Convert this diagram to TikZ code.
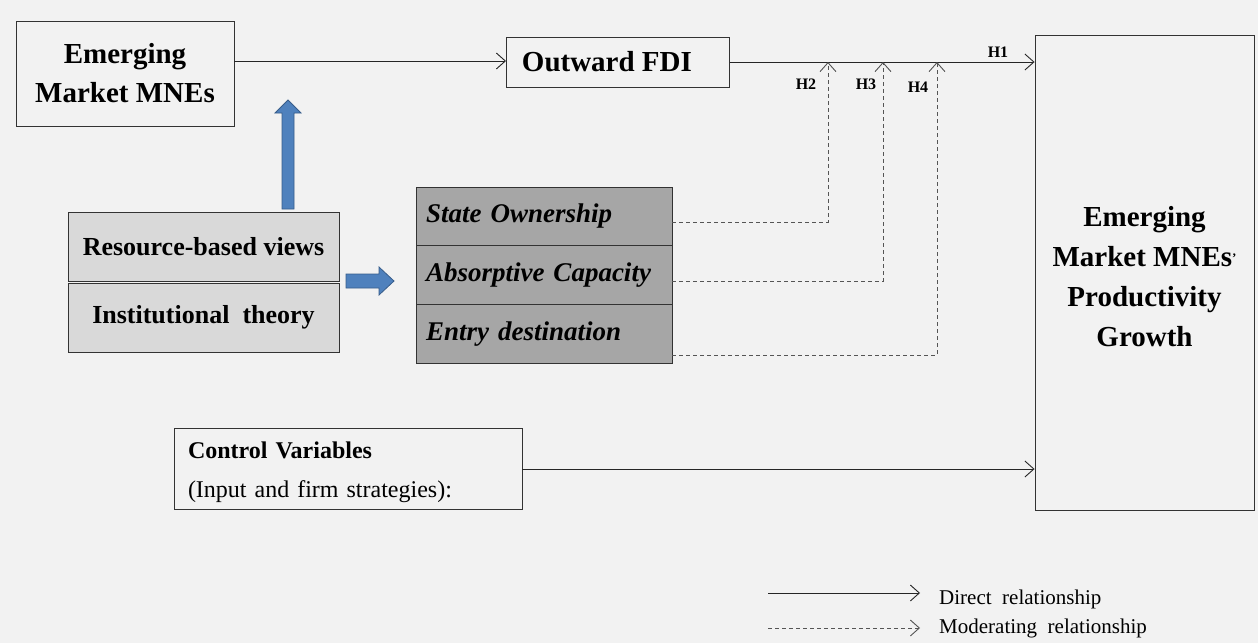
\documentclass[tikz,border=0pt]{standalone}
\usepackage{fontspec}
\setmainfont{Liberation Serif}
\usetikzlibrary{arrows.meta,calc}
\definecolor{bgc}{HTML}{F2F2F2}
\definecolor{lightbox}{HTML}{D9D9D9}
\definecolor{darkbox}{HTML}{A6A6A6}
\definecolor{blueA}{HTML}{4F81BD}
\definecolor{blueB}{HTML}{385D8A}
\definecolor{dashc}{HTML}{555555}
\begin{document}
\begin{tikzpicture}[x=1pt,y=-1pt,
  box/.style={draw=black!80, line width=0.9pt, inner sep=0pt, align=center},
  bigfont/.style={font=\bfseries\fontsize{29}{39}\selectfont},
  theo/.style={box, fill=lightbox, minimum width=271, minimum height=69, font=\bfseries\fontsize{26}{30}\selectfont},
  modb/.style={box, fill=darkbox, minimum width=256, minimum height=58.7, text width=236, align=left, font=\bfseries\itshape\fontsize{27}{30}\selectfont},
  direct/.style={draw=black!85, line width=0.9pt, -{Straight Barb[length=9pt,width=16pt,line width=0.9pt]}},
  moder/.style={draw=dashc, line width=0.9pt, dash pattern=on 4pt off 3pt, -{Straight Barb[length=9pt,width=16pt,line width=0.9pt]}},
  hlab/.style={font=\bfseries\fontsize{16}{18}\selectfont, inner sep=0pt},
  legtext/.style={font=\fontsize{21}{24}\selectfont, anchor=west, inner sep=0pt},
  bluearrow/.style={fill=blueA, draw=blueB, line width=0.8pt}
]
\fill[bgc] (0,0) rectangle (1258,643);
\useasboundingbox (0,0) rectangle (1258,643);

% boxes
\node[box, bigfont, minimum width=218, minimum height=105] (emm) at (125,73.5) {Emerging\\Market MNEs};
\node[box, bigfont, minimum width=223, minimum height=50, anchor=west] (fdi) at (506,62) {\hspace*{-22pt}Outward FDI};
\node[box, minimum width=219, minimum height=475] (prod) at (1144.5,272.5) {};
\node[align=center, inner sep=0pt, font=\bfseries\fontsize{29}{40}\selectfont] (prodtxt) at (1144.5,277) {Emerging\\Market MNEs\raisebox{0.35ex}{\fontsize{13}{13}\selectfont'}\\Productivity\\Growth};

\node[theo] (rbv) at (203.5,247) {Resource-based views};
\node[theo] (inst) at (203.5,317.5) {Institutional\ \ theory};

\node[modb] (state) at (544,216.3) {State Ownership};
\node[modb] (absorb) at (544,275) {Absorptive Capacity};
\node[modb] (entry) at (544,333.7) {Entry destination};

\node[box, minimum width=348, minimum height=81] (ctrl) at (348,468.5) {};
\node[inner sep=0pt, text width=320, align=left, font=\fontsize{24}{39}\selectfont] (ctrltxt) at (348,472)
  {\textbf{Control Variables}\\(Input and firm strategies):};

% direct relationships
\draw[direct] (emm.east |- 0,61) -- (fdi.west |- 0,61);
\draw[direct] (fdi.east |- 0,62) -- (prod.west |- 0,62);
\draw[direct] (ctrl.east |- 0,469) -- (prod.west |- 0,469);

% moderating relationships
\coordinate (m2) at (828,62);
\coordinate (m3) at (883,62);
\coordinate (m4) at (937,62);
\draw[moder] (state.east |- 0,222) -| (m2);
\draw[moder] (absorb.east |- 0,281) -| (m3);
\draw[moder] (entry.east |- 0,355) -| (m4);

% labels
\node[hlab] (h1) at (998,52) {H1};
\node[hlab] (h2) at (806,84) {H2};
\node[hlab] (h3) at (866,84) {H3};
\node[hlab] (h4) at (918,87) {H4};

% blue block arrows
\draw[bluearrow] (282,209) -- (282,113) -- (275,113) -- (288,100) -- (301,113) -- (294,113) -- (294,209) -- cycle;
\draw[bluearrow] (346,274) -- (379,274) -- (379,267) -- (394,281) -- (379,295) -- (379,288) -- (346,288) -- cycle;

% legend
\coordinate (l1a) at (768,593);
\coordinate (l1b) at (920,593);
\coordinate (l2a) at (768,628);
\coordinate (l2b) at (920,628);
\draw[direct] (l1a) -- (l1b);
\draw[moder] (l2a) -- (l2b);
\node[legtext] (lt1) at (939,599) {Direct\ \ relationship};
\node[legtext] (lt2) at (939,628) {Moderating\ \ relationship};
\end{tikzpicture}
\end{document}
